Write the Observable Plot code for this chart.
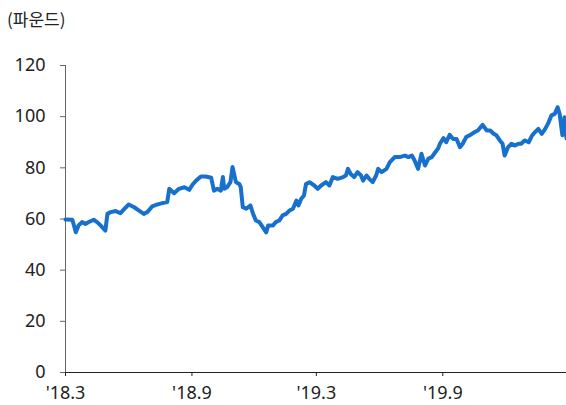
<!DOCTYPE html>
<html>
<head>
<meta charset="utf-8">
<script src="https://cdn.jsdelivr.net/npm/d3@7"></script>
<script src="https://cdn.jsdelivr.net/npm/@observablehq/plot@0.6"></script>
<style>
  html, body { margin: 0; padding: 0; background: #fff; }
  #title { height: 40px; box-sizing: border-box; padding: 6px 0 0 7px; font: 17px "Noto Sans CJK KR", "Noto Sans", sans-serif; color: #222; line-height: 26px; }
</style>
</head>
<body>
<div id="title">(파운드)</div>
<div id="chart"></div>
<script>
const dates = [
"2018-03-01","2018-03-11","2018-03-16","2018-03-20","2018-03-25","2018-03-30","2018-04-04","2018-04-11","2018-04-16","2018-04-21",
"2018-04-28","2018-05-01","2018-05-06","2018-05-13","2018-05-20","2018-05-28","2018-06-01","2018-06-09","2018-06-16","2018-06-23",
"2018-06-28","2018-07-05","2018-07-13","2018-07-20","2018-07-27","2018-07-30","2018-08-06","2018-08-13","2018-08-21","2018-08-28",
"2018-09-02","2018-09-07","2018-09-14","2018-09-21","2018-09-29","2018-10-03","2018-10-08","2018-10-13","2018-10-16","2018-10-18",
"2018-10-22","2018-10-27","2018-10-30","2018-11-04","2018-11-09","2018-11-11","2018-11-14","2018-11-19","2018-11-25","2018-11-29",
"2018-12-03","2018-12-08","2018-12-13","2018-12-18","2018-12-21","2018-12-28","2019-01-01","2019-01-06","2019-01-11","2019-01-16",
"2019-01-21","2019-01-26","2019-01-31","2019-02-03","2019-02-07","2019-02-11","2019-02-14","2019-02-19","2019-02-26","2019-03-03",
"2019-03-08","2019-03-15","2019-03-20","2019-03-25","2019-04-01","2019-04-09","2019-04-13","2019-04-16","2019-04-20","2019-04-25",
"2019-04-30","2019-05-05","2019-05-08","2019-05-13","2019-05-17","2019-05-22","2019-05-27","2019-05-30","2019-06-04","2019-06-11",
"2019-06-16","2019-06-23","2019-06-30","2019-07-08","2019-07-13","2019-07-18","2019-07-22","2019-07-27","2019-08-01","2019-08-06",
"2019-08-11","2019-08-16","2019-08-21","2019-08-25","2019-08-28","2019-09-02","2019-09-06","2019-09-11","2019-09-16","2019-09-21",
"2019-09-26","2019-09-30","2019-10-05","2019-10-10","2019-10-17","2019-10-22","2019-10-29","2019-11-04","2019-11-09","2019-11-14",
"2019-11-18","2019-11-23","2019-11-27","2019-11-30","2019-12-05","2019-12-10","2019-12-15","2019-12-20","2019-12-24","2019-12-29",
"2020-01-04","2020-01-09","2020-01-13","2020-01-18","2020-01-23","2020-01-28","2020-02-02","2020-02-06","2020-02-11","2020-02-15",
"2020-02-18","2020-02-22","2020-02-25","2020-02-28"
];
const prices = [
59.8,59.7,54.8,57.5,58.8,58.1,58.8,59.7,58.8,57.5,
55.5,62.0,62.7,63.1,62.3,64.6,65.7,64.6,63.3,62.0,
62.7,64.9,65.7,66.2,66.6,71.8,70.1,71.8,72.4,71.4,
73.5,75.0,76.6,76.6,76.1,71.1,71.8,71.1,76.4,71.8,
72.4,74.4,80.3,74.4,73.7,72.4,64.6,64.0,65.3,62.0,
59.4,58.8,56.8,54.8,57.5,57.5,58.8,59.4,61.4,62.0,
63.3,64.0,67.2,65.3,67.9,69.2,73.7,74.4,73.1,71.8,
73.1,74.4,73.1,76.4,75.7,76.4,77.0,79.6,77.6,76.4,
78.3,77.0,75.0,77.0,75.7,74.4,77.0,79.6,78.3,79.6,
82.2,84.2,84.2,84.8,84.2,84.8,82.9,79.6,85.5,80.9,
83.6,84.2,86.1,87.5,89.5,91.6,90.0,92.9,91.3,91.3,
88.1,89.4,92.0,92.7,93.9,94.6,96.8,94.6,94.6,93.3,
92.7,90.7,89.4,84.8,88.1,89.4,88.7,89.4,89.4,90.7,
90.0,92.7,93.9,95.2,93.3,95.2,97.8,100.5,101.1,103.7,
101.1,92.7,99.8,91.5
];
const xTickDates = ["2018-03-01","2018-09-01","2019-03-01","2019-09-01"];
const xTickLabels = ["'18.3","'18.9","'19.3","'19.9"];
const yTicks = [0,20,40,60,80,100,120];

const data = dates.map((d, i) => ({date: new Date(d), value: prices[i]}));
const xTicks = xTickDates.map(d => new Date(d));
const labelOf = new Map(xTicks.map((d, i) => [+d, xTickLabels[i]]));

const chart = Plot.plot({
  width: 566,
  height: 365,
  marginTop: 25,
  marginBottom: 33,
  marginLeft: 65,
  marginRight: 0,
  style: {fontFamily: "'Noto Sans', sans-serif", fontSize: "18px", color: "#222", background: "#fff"},
  x: {type: "utc", domain: [new Date(dates[0]), new Date(dates[dates.length - 1])]},
  y: {domain: [0, 120]},
  marks: [
    Plot.axisY({ticks: yTicks, tickSize: 5, tickPadding: 15, stroke: "#666", fontSize: 18, label: null}),
    Plot.axisX({ticks: xTicks, tickSize: 4, tickPadding: 10, stroke: "#222", fontSize: 18, label: null,
                tickFormat: d => labelOf.get(+d)}),
    Plot.ruleX([new Date(dates[0])], {stroke: "#666", strokeWidth: 1}),
    Plot.line(data, {x: "date", y: "value", stroke: "#1670CC", strokeWidth: 4, strokeLinejoin: "round", strokeLinecap: "round"}),
    Plot.ruleY([0], {stroke: "#222", strokeWidth: 1.2})
  ]
});
document.getElementById("chart").appendChild(chart);
</script>
</body>
</html>
